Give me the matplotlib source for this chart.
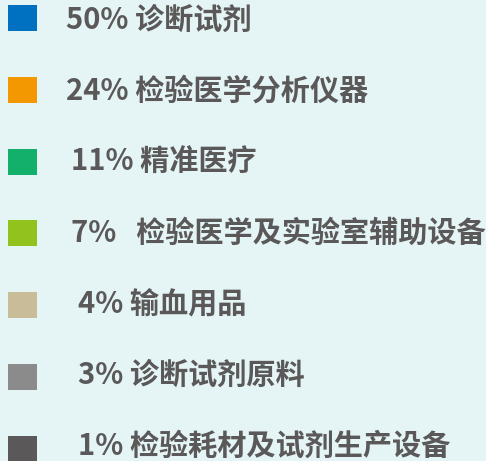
import matplotlib.pyplot as plt
from matplotlib.patches import Rectangle

plt.rcParams["font.family"] = ["Noto Sans CJK SC", "DejaVu Sans"]

# legend entries, top to bottom
shares = ["50%", "24%", "11%", "7%  ", "4%", "3%", "1%"]
names = ["诊断试剂", "检验医学分析仪器", "精准医疗", "检验医学及实验室辅助设备",
         "输血用品", "诊断试剂原料", "检验耗材及试剂生产设备"]
colors = ["#0070c0", "#f39800", "#12b06a", "#92c21e", "#c9bc98", "#8b8b8b", "#5b5859"]
text_x = [66, 66, 71, 71, 78, 78, 78]

bg = "#e5f5f6"
fig = plt.figure(figsize=(4.86, 4.61), dpi=100, facecolor=bg)
ax = fig.add_axes([0, 0, 1, 1])
ax.set_facecolor(bg)
ax.set_xlim(0, 486)
ax.set_ylim(461, 0)
ax.axis("off")

size = 28
for i, (s, n, c, tx) in enumerate(zip(shares, names, colors, text_x)):
    yc = 19 + i * 71.8
    ax.add_patch(Rectangle((8, yc - size / 2), size + 1, size - 2, color=c, lw=0))
    ax.text(tx, 20 + i * 71, f"{s} {n}", fontsize=21, fontweight="bold",
            color="#5a5858", va="center", ha="left")

fig.savefig("out.png", dpi=100, facecolor=bg)
